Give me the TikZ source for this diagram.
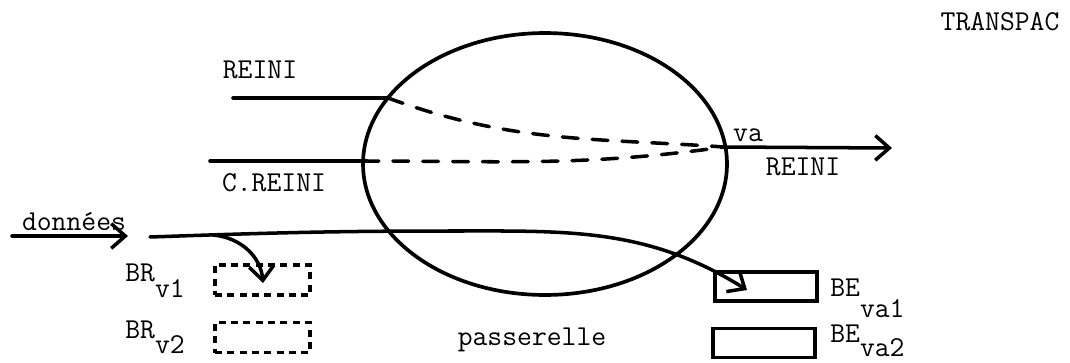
\documentclass[tikz,border=0pt]{standalone}
\usetikzlibrary{arrows.meta,shapes.geometric}

\begin{document}
\begin{tikzpicture}[x=0.02cm,y=0.02cm,
  flow/.style={line width=2pt,line cap=round},
  dashline/.style={flow,dash pattern=on 9pt off 8pt},
  tip/.style={-{Straight Barb[length=8pt,width=14pt,line width=2pt]}},
  brbox/.style={draw,line width=1.8pt,dash pattern=on 4pt off 3pt,minimum width=1.9cm,minimum height=0.6cm,inner sep=0pt},
  bebox/.style={draw,line width=2pt,minimum width=2.04cm,minimum height=0.58cm,inner sep=0pt},
  lbl/.style={font=\ttfamily\fontsize{16.4}{19}\selectfont,inner sep=0pt}]
\useasboundingbox (0,0) rectangle (1070,-362);
\node[draw,line width=2.1pt,minimum width=7.28cm,minimum height=5.24cm,inner sep=0pt,ellipse] (pas) at (545,-164) {};
\node[lbl] (transpac) at (1000,-22) {TRANSPAC};
\node[lbl] (reini) at (260,-70) {REINI};
\node[lbl] (creini) at (274,-183) {C.REINI};
\node[lbl] (valbl) at (748,-135) {va};
\node[lbl] (reinib) at (803,-167) {REINI};
\node[lbl] (donnees) at (74,-222) {données};
\node[lbl] (passerelle) at (532,-340) {passerelle};
\node[brbox] (brv1) at (262.5,-280) {};
\node[brbox] (brv2) at (262.5,-337.5) {};
\node[bebox] (beva1) at (766,-286.5) {};
\node[bebox] (beva2) at (764,-343) {};
\node[lbl,anchor=base west] (brv1lbl) at (125,-281) {BR\raisebox{-9.6pt}{v1}};
\node[lbl,anchor=base west] (brv2lbl) at (125,-338) {BR\raisebox{-8.6pt}{v2}};
\node[lbl,anchor=base west] (beva1lbl) at (830,-296) {BE\raisebox{-12.5pt}{va1}};
\node[lbl,anchor=base west] (beva2lbl) at (830,-342) {BE\raisebox{-8pt}{va2}};
\coordinate (r0) at (233,-98);
\coordinate (r1) at (388,-98);
\coordinate (c0) at (210,-161);
\coordinate (c1) at (363,-161);
\coordinate (va) at (724,-147);
\coordinate (rend) at (892,-148);
\coordinate (d0) at (150,-237);
\coordinate (d1) at (213,-235);
\coordinate (dm) at (450,-231);
\coordinate (brtip) at (263,-283);
\coordinate (betip) at (747,-290);
\coordinate (u0) at (12,-236);
\coordinate (u1) at (128,-236);
\draw[flow] (r0) -- (r1);
\draw[dashline] (r1) to[out=-20,in=176] (va);
\draw[flow] (c0) -- (c1);
\draw[dashline] (c1) to[out=0,in=188] (va);
\draw[flow,tip] (va) -- (rend);
\draw[flow,tip] (d0) to[out=2,in=180] (dm) to[out=0,in=148] (betip);
\draw[flow,tip] (d1) to[out=-5,in=95] (brtip);
\draw[flow,tip] (u0) -- (u1);
\end{tikzpicture}
\end{document}
